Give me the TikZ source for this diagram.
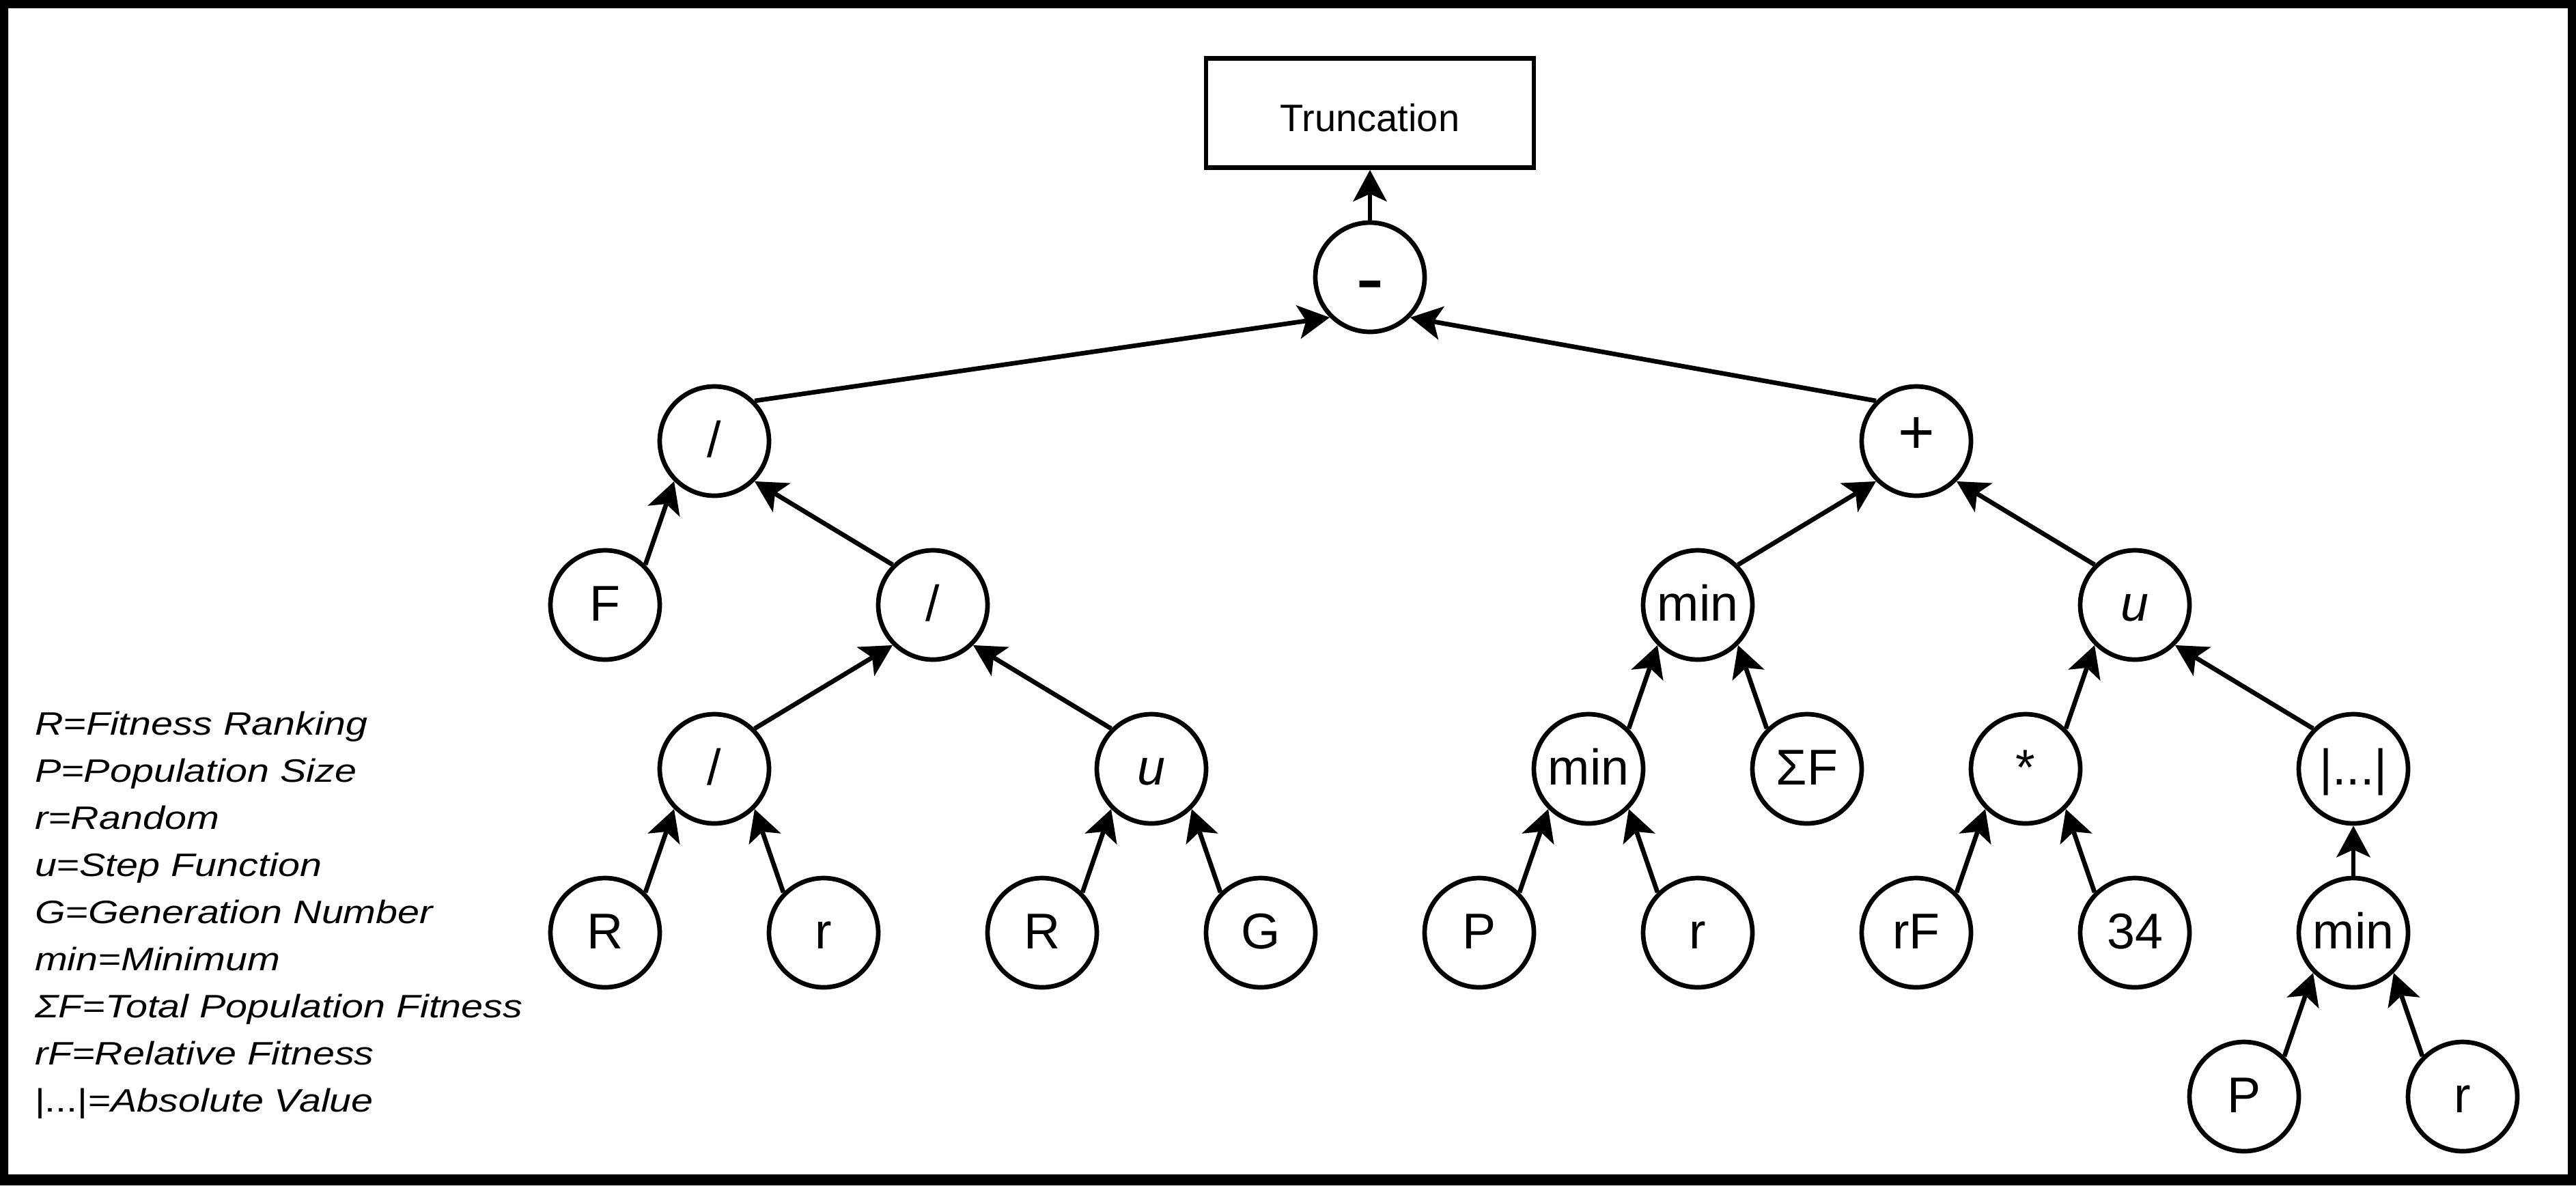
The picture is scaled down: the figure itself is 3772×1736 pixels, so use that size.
\documentclass[tikz,border=0pt]{standalone}
\usepackage{fontspec}
\setmainfont{Liberation Sans}
\usetikzlibrary{arrows.meta}
\newcommand\legline[1]{\scalebox{1.21}[1]{#1}}
\begin{document}
\begin{tikzpicture}[x=0.2pt,y=-0.2pt,
  nd/.style={circle,draw,line width=1.34pt,minimum size=32pt,inner sep=0pt,
    font=\fontsize{14.72}{17}\selectfont,text height=10.5pt,text depth=1.2pt},
  boxnd/.style={rectangle,draw,line width=1.34pt,minimum width=96pt,minimum height=32pt,
    inner sep=0pt,font=\fontsize{11.2}{13}\selectfont,text height=10.7pt,text depth=0pt},
  edge/.style={line width=1.34pt,-{Stealth[length=9.2pt,width=9.8pt,inset=2.2pt]}},
  leg/.style={anchor=base west,inner sep=0pt,font=\fontsize{9.5}{11}\selectfont}]
\useasboundingbox (0,0) rectangle (3772,1736);
% frame
\fill[even odd rule] (0,0) rectangle (3772,1736) (12,12) rectangle (3760,1720);

% nodes
\node[boxnd] (trunc) at (2006,165.5) {Truncation};
\node[nd,font=\fontsize{25}{28}\selectfont,text height=17.2pt,text depth=0pt] (minus) at (2006,406) {-};
\node[nd] (divA) at (1046,646) {/};
\node[nd,font=\fontsize{18.4}{20}\selectfont,text height=7.2pt,text depth=0pt] (plus) at (2806,646) {+};
\node[nd] (F) at (886,886) {F};
\node[nd] (divB) at (1366,886) {/};
\node[nd] (minA) at (2486,886) {min};
\node[nd] (uA) at (3126,886) {\itshape u};
\node[nd] (divC) at (1046,1126) {/};
\node[nd] (uB) at (1686,1126) {\itshape u};
\node[nd] (minB) at (2326,1126) {min};
\node[nd] (sumF) at (2646,1126) {ΣF};
\node[nd] (mul) at (2966,1126) {*};
\node[nd] (abs) at (3446,1126) {|...|};
\node[nd] (R1) at (886,1366) {R};
\node[nd] (r1) at (1206,1366) {r};
\node[nd] (R2) at (1526,1366) {R};
\node[nd] (G) at (1846,1366) {G};
\node[nd] (P1) at (2166,1366) {P};
\node[nd] (r2) at (2486,1366) {r};
\node[nd] (rF) at (2806,1366) {rF};
\node[nd] (n34) at (3126,1366) {34};
\node[nd] (minC) at (3446,1366) {min};
\node[nd] (P2) at (3286,1606) {P};
\node[nd] (r3) at (3606,1606) {r};

% edges
\draw[edge] (minus.north) -- (trunc.south);
\draw[edge] (divA.north east) -- (minus.south west);
\draw[edge] (plus.north west) -- (minus.south east);
\draw[edge] (F.north east) -- (divA.south west);
\draw[edge] (divB.north west) -- (divA.south east);
\draw[edge] (divC.north east) -- (divB.south west);
\draw[edge] (uB.north west) -- (divB.south east);
\draw[edge] (R1.north east) -- (divC.south west);
\draw[edge] (r1.north west) -- (divC.south east);
\draw[edge] (R2.north east) -- (uB.south west);
\draw[edge] (G.north west) -- (uB.south east);
\draw[edge] (minA.north east) -- (plus.south west);
\draw[edge] (uA.north west) -- (plus.south east);
\draw[edge] (minB.north east) -- (minA.south west);
\draw[edge] (sumF.north west) -- (minA.south east);
\draw[edge] (P1.north east) -- (minB.south west);
\draw[edge] (r2.north west) -- (minB.south east);
\draw[edge] (mul.north east) -- (uA.south west);
\draw[edge] (abs.north west) -- (uA.south east);
\draw[edge] (rF.north east) -- (mul.south west);
\draw[edge] (n34.north west) -- (mul.south east);
\draw[edge] (minC.north) -- (abs.south);
\draw[edge] (P2.north east) -- (minC.south west);
\draw[edge] (r3.north west) -- (minC.south east);

% legend
\node[leg] (l1) at (50,1076) {\legline{\itshape R=Fitness Ranking}};
\node[leg] (l2) at (50,1145) {\legline{\itshape P=Population Size}};
\node[leg] (l3) at (50,1214) {\legline{\itshape r=Random}};
\node[leg] (l4) at (50,1283) {\legline{\itshape u=Step Function}};
\node[leg] (l5) at (50,1352) {\legline{\itshape G=Generation Number}};
\node[leg] (l6) at (50,1421) {\legline{\itshape min=Minimum}};
\node[leg] (l7) at (50,1490) {\legline{\itshape ΣF=Total Population Fitness}};
\node[leg] (l8) at (50,1559) {\legline{\itshape rF=Relative Fitness}};
\node[leg] (l9) at (50,1628) {\legline{|...|\itshape =Absolute Value}};
\end{tikzpicture}
\end{document}
